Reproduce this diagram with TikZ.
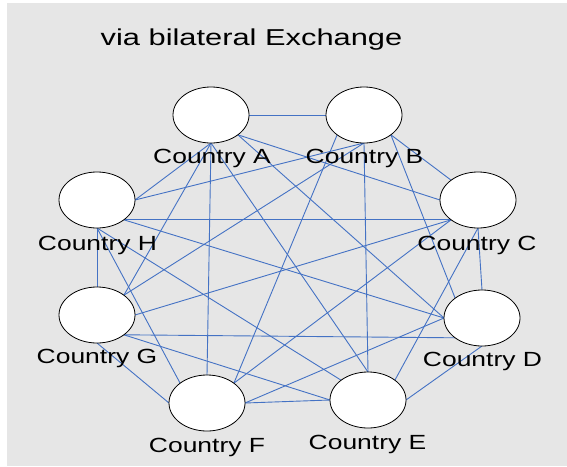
\documentclass[tikz,border=0pt]{standalone}
\usepackage{fontspec}
\setmainfont{Liberation Sans}
\usetikzlibrary{shapes.geometric}
\pgfdeclarelayer{bg}
\pgfdeclarelayer{edges}
\pgfsetlayers{bg,edges,main}
\definecolor{bggray}{RGB}{230,230,230}
\definecolor{linkblue}{RGB}{68,114,196}
\begin{document}
\begin{tikzpicture}[x=1pt,y=-1pt,
  country/.style={ellipse, draw=black, fill=white, line width=0.8pt, minimum width=76pt, minimum height=56pt, inner sep=0pt, outer sep=0pt},
  lbl/.style={anchor=base, inner sep=0pt, font=\fontsize{20.5}{24}\selectfont},
  ttl/.style={anchor=base, inner sep=0pt, font=\fontsize{23}{27}\selectfont},
  link/.style={draw=linkblue, line width=0.9pt}]
\useasboundingbox (0,0) rectangle (567,466);
\begin{pgfonlayer}{bg}
\fill[bggray] (7,3) rectangle (567,466);
\end{pgfonlayer}
\node[ttl] (title) at (251.5,45.5) {\scalebox{1.34}[1]{via bilateral Exchange}};
\node[country] (A) at (211,115) {};
\node[country] (B) at (364,115) {};
\node[country] (C) at (478,200) {};
\node[country] (D) at (482,318) {};
\node[country] (E) at (368,400) {};
\node[country] (F) at (207,403) {};
\node[country] (G) at (97,315) {};
\node[country] (H) at (97,200) {};
\node[lbl] (lA) at (212,163) {\scalebox{1.29}[1]{Country A}};
\node[lbl] (lB) at (364.5,163) {\scalebox{1.29}[1]{Country B}};
\node[lbl] (lC) at (477,250.5) {\scalebox{1.29}[1]{Country C}};
\node[lbl] (lD) at (482.5,366.5) {\scalebox{1.29}[1]{Country D}};
\node[lbl] (lE) at (367.5,449) {\scalebox{1.29}[1]{Country E}};
\node[lbl] (lF) at (207,452.5) {\scalebox{1.29}[1]{Country F}};
\node[lbl] (lG) at (97,363) {\scalebox{1.29}[1]{Country G}};
\node[lbl] (lH) at (97.5,250.5) {\scalebox{1.29}[1]{Country H}};
\begin{pgfonlayer}{edges}
\draw[link] (A.east) -- (B.west);
\draw[link] (A.south east) -- (C.west);
\draw[link] (A.south east) -- (D.west);
\draw[link] (A.south) -- (E.north);
\draw[link] (A.south) -- (F.north);
\draw[link] (A.south) -- (G.north east);
\draw[link] (A.south) -- (H.east);
\draw[link] (B.south east) -- (C.north west);
\draw[link] (B.south east) -- (D.north west);
\draw[link] (B.south) -- (E.north);
\draw[link] (B.south west) -- (F.north east);
\draw[link] (B.south) -- (G.north east);
\draw[link] (B.south) -- (H.east);
\draw[link] (C.south) -- (D.north);
\draw[link] (C.south) -- (E.north east);
\draw[link] (C.south west) -- (F.north east);
\draw[link] (C.south west) -- (G.east);
\draw[link] (C.south west) -- (H.south east);
\draw[link] (D.south) -- (E.east);
\draw[link] (D.west) -- (F.east);
\draw[link] (D.south west) -- (G.south east);
\draw[link] (D.west) -- (H.south east);
\draw[link] (E.west) -- (F.east);
\draw[link] (E.west) -- (G.south east);
\draw[link] (E.north west) -- (H.south);
\draw[link] (F.west) -- (G.south);
\draw[link] (F.north west) -- (H.south);
\draw[link] (G.north) -- (H.south);
\end{pgfonlayer}
\end{tikzpicture}
\end{document}
